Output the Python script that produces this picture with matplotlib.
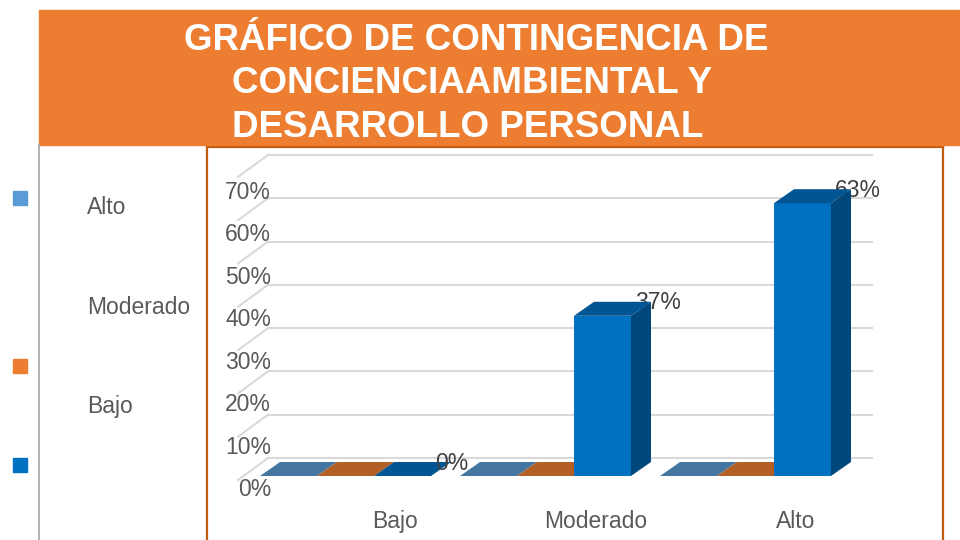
import numpy as np
import matplotlib.pyplot as plt
from matplotlib.patches import Rectangle, Polygon
from matplotlib.colors import to_rgb

# Data
categories = ['Bajo', 'Moderado', 'Alto']
legend_labels = ['Alto', 'Moderado', 'Bajo']
serie_1 = [0, 0, 0]
serie_2 = [0, 0, 0]
serie_3 = [0, 37, 63]
y_ticks = [0, 10, 20, 30, 40, 50, 60, 70]
title_lines = ['GRÁFICO DE CONTINGENCIA DE', 'CONCIENCIAAMBIENTAL Y', 'DESARROLLO PERSONAL']

series = [serie_1, serie_2, serie_3]
colors = ['#5B9BD5', '#ED7D31', '#0070C0']
labelled = [False, False, True]

plt.rcParams['font.family'] = ['Liberation Sans', 'DejaVu Sans']

# Layout helpers (pixels of a 960x540 figure)
W, H = 960, 540
px_cat = 200.0     # pixels per category
px_pct = 4.33      # pixels per percent
x0_px, y0_px = 345.5, 476.0   # where category 0 / value 0 sits

def shade(c, f):
    r, g, b = to_rgb(c)
    return (r * f, g * f, b * f)

fig = plt.figure(figsize=(9.6, 5.4), dpi=100)

# Title banner
fig.patches.append(Rectangle((38.6 / W, 1 - 145 / H), 1 - 38.6 / W, 135 / H,
                             transform=fig.transFigure, color='#ED7D31', zorder=0))
for line, x, base in zip(title_lines, [184, 232, 232], [50, 93, 137]):
    fig.text(x / W, 1 - base / H, line, color='white', fontsize=26.5,
             fontweight='bold', ha='left', va='baseline')

# thin grey slide line on the left
fig.lines.append(plt.Line2D([39 / W, 39 / W], [0, 1 - 145 / H], transform=fig.transFigure,
                            color='#A6A6A6', lw=1.2))

# Legend (markers and labels as laid out in the original)
for c, y in zip(colors, [191, 359, 458]):
    fig.patches.append(Rectangle((13 / W, 1 - (y + 14) / H), 14 / W, 14 / H,
                                 transform=fig.transFigure, color=c))
for lab, y in zip(legend_labels, [207, 308, 407]):
    fig.text(87 / W, 1 - y / H, lab, color='#595959', fontsize=16.5, ha='left', va='center')

# Chart area
left, right, top = 207, 943, 147
ax = fig.add_axes([left / W, 0, (right - left) / W, (H - top) / H])
ax.set_xlim((left - x0_px) / px_cat, (right - x0_px) / px_cat)
ax.set_ylim((y0_px - H) / px_pct, (y0_px - top) / px_pct)
ax.set_xticks([])
ax.set_yticks([])
for s in ['left', 'right', 'top']:
    ax.spines[s].set_color('#C55A11')
    ax.spines[s].set_linewidth(1.6)
ax.spines['bottom'].set_visible(False)

# wall / floor depth (data units)
wall_dy = 18 / px_pct
front_dy = -4 / px_pct
wall_x0 = (268 - x0_px) / px_cat
wall_x1 = (872 - x0_px) / px_cat
diag_x0 = (238 - x0_px) / px_cat
label_scale = 4.257 / px_pct   # tick labels sit on the front plane (slightly tighter)

for g in y_ticks:
    ax.plot([wall_x0, wall_x1], [g + wall_dy, g + wall_dy], color='#D9D9D9', lw=1.5, zorder=1)
    ax.plot([diag_x0, wall_x0], [g + front_dy, g + wall_dy], color='#D9D9D9', lw=1.5, zorder=1)
    ax.text((271 - x0_px) / px_cat, g * label_scale - 14 / px_pct, f'{g}%', color='#595959',
            fontsize=16.5, ha='right', va='center')

# 3D bars
bw = 57 / px_cat
bdx = 20 / px_cat
bdy = 14 / px_pct
z = 2
for i in range(len(categories)):
    for j, vals in enumerate(series):
        v = vals[i]
        xl = i + (j - 1.5) * bw
        xr = xl + bw
        c = colors[j]
        if v > 0:
            ax.add_patch(Polygon([(xr, 0), (xr + bdx, bdy), (xr + bdx, v + bdy), (xr, v)],
                                 closed=True, fc=shade(c, 0.64), ec='none', zorder=z))
            ax.add_patch(Rectangle((xl, 0), bw, v, fc=c, ec='none', zorder=z + 1))
        ax.add_patch(Polygon([(xl, v), (xr, v), (xr + bdx, v + bdy), (xl + bdx, v + bdy)],
                             closed=True, fc=shade(c, 0.76), ec='none', zorder=z + 1))
        if labelled[j]:
            ax.text(xr + 0.02, v + 3, f'{v}%', color='#404040', fontsize=16.5,
                    ha='left', va='center', zorder=10)
        z += 2

# category labels
for i, cat in enumerate(categories):
    ax.text(i + 0.25, -10.6, cat, color='#595959', fontsize=16.5, ha='center', va='center')

fig.savefig('out.png', dpi=100)
